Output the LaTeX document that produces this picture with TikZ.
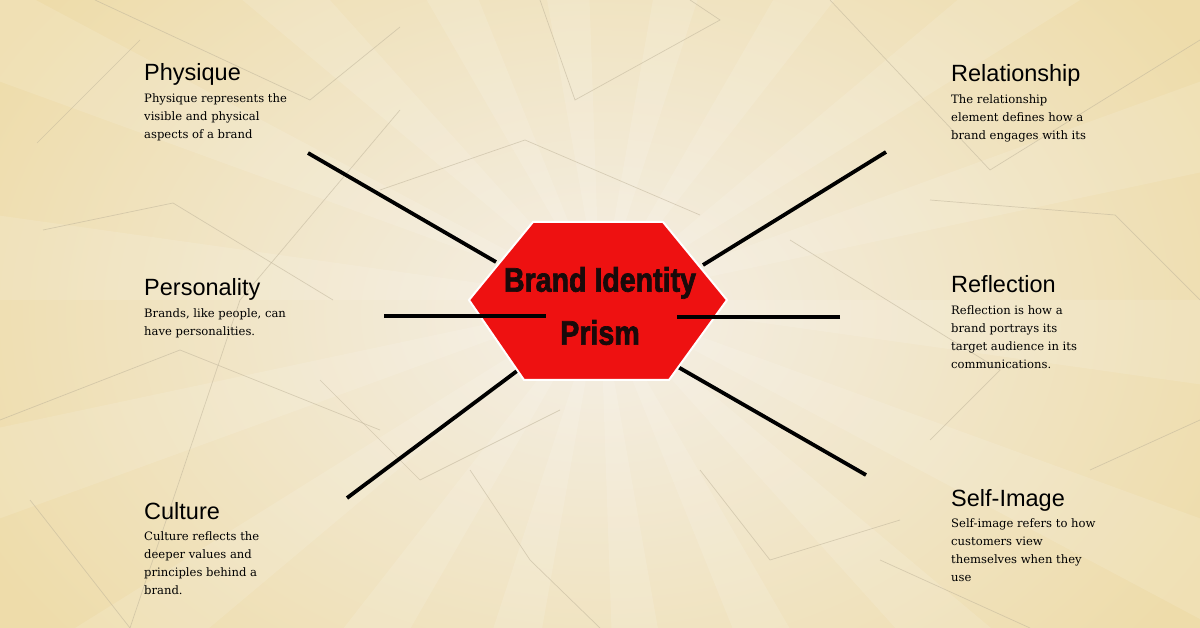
\documentclass[tikz,border=0pt]{standalone}
\usepackage{fontspec}
\setmainfont{DejaVu Serif}
\newfontfamily\headfont{Liberation Sans}
\newfontfamily\prismfont[FakeStretch=0.84,FakeBold=2]{Liberation Sans Bold}
\usetikzlibrary{positioning}

\definecolor{bgouter}{HTML}{EEDCAA}
\definecolor{bginner}{HTML}{F4EFE6}
\definecolor{prismred}{HTML}{EE1111}
\definecolor{prismink}{HTML}{1A0A0A}
\definecolor{bgline}{HTML}{BFB49A}

\begin{document}
\begin{tikzpicture}[x=1pt, y=-1pt,
    facet title/.style={font=\headfont\fontsize{23.5}{28}\selectfont,
                        inner sep=0, anchor=base west},
    facet text/.style={font=\fontsize{11.6}{18}\selectfont, align=left,
                       inner sep=0, anchor=north west},
    spoke/.style={line width=3.8pt, black},
    bg line/.style={bgline, line width=0.7pt, opacity=0.55}]

  % Background: light centre, sun rays and faint lines
  \useasboundingbox (0,0) rectangle (1200,628);
  \fill[inner color=bginner, outer color=bgouter] (-100,-200) rectangle (1300,828);
  \begin{scope}
    \clip (0,0) rectangle (1200,628);
    \foreach \a in {0,20,...,340}
      \fill[white, opacity=0.12] (600,300) -- +(\a:900) -- +(\a+8:900) -- cycle;
    \draw[bg line] (95,0) -- (310,100) -- (400,27);
    \draw[bg line] (37,143) -- (140,40);
    \draw[bg line] (43,230) -- (173,203) -- (333,300);
    \draw[bg line] (400,110) -- (240,300) -- (130,628);
    \draw[bg line] (540,0) -- (575,100) -- (720,20) -- (690,0);
    \draw[bg line] (380,190) -- (525,140) -- (700,215);
    \draw[bg line] (830,0) -- (990,170) -- (1200,40);
    \draw[bg line] (930,200) -- (1115,215) -- (1200,300);
    \draw[bg line] (790,240) -- (1000,370) -- (930,440);
    \draw[bg line] (320,380) -- (420,480) -- (560,410);
    \draw[bg line] (470,470) -- (530,560) -- (600,628);
    \draw[bg line] (700,470) -- (770,560) -- (900,520);
    \draw[bg line] (880,560) -- (1030,628);
    \draw[bg line] (1090,470) -- (1200,420);
    \draw[bg line] (30,500) -- (130,628);
    \draw[bg line] (0,420) -- (180,350) -- (380,430);
  \end{scope}

  % Spoke end points
  \coordinate (physique end) at (308,153);
  \coordinate (physique hub) at (496,262);
  \coordinate (personality end) at (384,316);
  \coordinate (personality hub) at (546,316);
  \coordinate (culture end) at (347,498);
  \coordinate (culture hub) at (521,368);
  \coordinate (relationship end) at (886,152);
  \coordinate (relationship hub) at (703,265);
  \coordinate (reflection end) at (840,317);
  \coordinate (reflection hub) at (677,317);
  \coordinate (selfimage end) at (866,475);
  \coordinate (selfimage hub) at (678,367);

  % Spokes
  \draw[spoke] (physique end) -- (physique hub);
  \draw[spoke] (culture end) -- (culture hub);
  \draw[spoke] (relationship end) -- (relationship hub);
  \draw[spoke] (selfimage end) -- (selfimage hub);

  % Central prism
  \draw[white, line width=2pt, fill=prismred]
    (533,222) -- (663,222) -- (727,300) -- (669,380) -- (524,380) -- (469,300) -- cycle;
  \draw[spoke] (personality end) -- (personality hub);
  \draw[spoke] (reflection end) -- (reflection hub);
  \node[font=\prismfont\fontsize{34}{53}\selectfont, text=prismink, align=center, inner sep=0]
    (prism) at (600,306) {Brand Identity\\Prism};

  % Left facets
  \node[facet title] (physique) at (144,81) {Physique};
  \node[facet text, below=12.5pt of physique.base west, anchor=north west] (physique text)
    {Physique represents the\\visible and physical\\aspects of a brand};
  \node[facet title] (personality) at (144,296) {Personality};
  \node[facet text, below=12.5pt of personality.base west, anchor=north west] (personality text)
    {Brands, like people, can\\have personalities.};
  \node[facet title] (culture) at (144,519) {Culture};
  \node[facet text, below=12.5pt of culture.base west, anchor=north west] (culture text)
    {Culture reflects the\\deeper values and\\principles behind a\\brand.};

  % Right facets
  \node[facet title] (relationship) at (951,82) {Relationship};
  \node[facet text, below=12.5pt of relationship.base west, anchor=north west] (relationship text)
    {The relationship\\element defines how a\\brand engages with its};
  \node[facet title] (reflection) at (951,293) {Reflection};
  \node[facet text, below=12.5pt of reflection.base west, anchor=north west] (reflection text)
    {Reflection is how a\\brand portrays its\\target audience in its\\communications.};
  \node[facet title] (selfimage) at (951,506) {Self-Image};
  \node[facet text, below=12.5pt of selfimage.base west, anchor=north west] (selfimage text)
    {Self-image refers to how\\customers view\\themselves when they\\use};

\end{tikzpicture}
\end{document}
